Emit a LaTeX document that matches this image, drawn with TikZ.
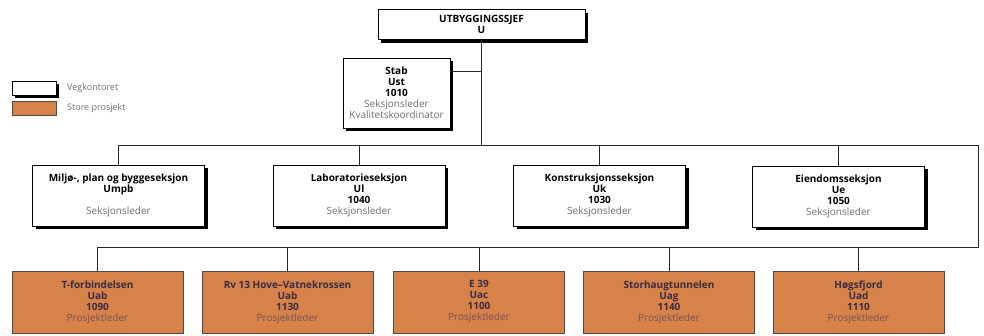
\documentclass[tikz,border=0pt]{standalone}
\usepackage{fontspec}
\setmainfont{Open Sans}
\usetikzlibrary{shadows}
\definecolor{orangebox}{RGB}{214,130,72}
\definecolor{orangetext}{RGB}{58,44,70}
\definecolor{orangesub}{RGB}{120,84,90}
\definecolor{subgray}{RGB}{110,110,110}
\begin{document}
\begin{tikzpicture}[x=1pt,y=-1pt,
  base/.style={align=center, inner sep=0pt, font=\fontsize{10}{11}\selectfont},
  wbox/.style={base, draw=black, line width=0.8pt, fill=white,
    drop shadow={shadow xshift=3pt, shadow yshift=-3pt, fill=black, opacity=1}},
  secbox/.style={wbox, minimum width=172pt, minimum height=61pt},
  obox/.style={base, draw=black!70, line width=0.6pt, fill=orangebox, text=orangetext,
    minimum width=171pt, minimum height=62pt},
  conn/.style={draw=black!85, line width=0.8pt},
  legtext/.style={anchor=west, inner sep=0pt, text=subgray, font=\fontsize{9}{10}\selectfont}]
\useasboundingbox (0,0) rectangle (984,335);

% top
\node[wbox, minimum width=207pt, minimum height=30pt] (u) at (481.5,24.5)
  {\textbf{UTBYGGINGSSJEF}\\\textbf{U}};
\node[wbox, minimum width=107pt, minimum height=70pt] (stab) at (396.5,93)
  {\textbf{Stab}\\\textbf{Ust}\\\textbf{1010}\\{\color{subgray}Seksjonsleder}\\{\color{subgray}Kvalitetskoordinator}};

% legend
\node[wbox, minimum width=44pt, minimum height=14pt] (legw) at (34,88) {};
\node[legtext] (legwt) at (67,88) {Vegkontoret};
\node[obox, minimum width=44pt, minimum height=14pt] (lego) at (34,108) {};
\node[legtext] (legot) at (67,108) {Store prosjekt};

% sections
\node[secbox] (miljo) at (118.5,195.5)
  {\textbf{Miljø-, plan og byggeseksjon}\\\textbf{Umpb}\\[11pt]{\color{subgray}Seksjonsleder}};
\node[secbox] (lab) at (359,195.5)
  {\textbf{Laboratorieseksjon}\\\textbf{Ul}\\\textbf{1040}\\{\color{subgray}Seksjonsleder}};
\node[secbox] (konst) at (599.5,195.5)
  {\textbf{Konstruksjonsseksjon}\\\textbf{Uk}\\\textbf{1030}\\{\color{subgray}Seksjonsleder}};
\node[secbox] (eiend) at (838.5,196.5)
  {\textbf{Eiendomsseksjon}\\\textbf{Ue}\\\textbf{1050}\\{\color{subgray}Seksjonsleder}};

% projects
\node[obox] (tforb) at (97.5,302)
  {\textbf{T-forbindelsen}\\\textbf{Uab}\\\textbf{1090}\\{\color{orangesub}Prosjektleder}};
\node[obox] (rv13) at (287.5,302)
  {\textbf{Rv 13 Hove–Vatnekrossen}\\\textbf{Uab}\\\textbf{1130}\\{\color{orangesub}Prosjektleder}};
\node[obox] (e39) at (479,302)
  {\textbf{E 39}\\\textbf{Uac}\\\textbf{1100}\\{\color{orangesub}Prosjektleder}};
\node[obox] (storh) at (669,302)
  {\textbf{Storhaugtunnelen}\\\textbf{Uag}\\\textbf{1140}\\{\color{orangesub}Prosjektleder}};
\node[obox] (hogsf) at (858.5,302)
  {\textbf{Høgsfjord}\\\textbf{Uad}\\\textbf{1110}\\{\color{orangesub}Prosjektleder}};

% connectors
\coordinate (bustop) at (481,145);
\coordinate (stabj) at (481,71);
\coordinate (busr) at (978,145);
\coordinate (busbr) at (978,247);
\coordinate (busb) at (96,247);

\draw[conn] (u.south -| bustop) -- (bustop);
\draw[conn] (stab.east |- stabj) -- (stabj);
\draw[conn] (miljo.north |- bustop) -- (busr) -- (busbr) -- (busb -| tforb.north);
\foreach \n in {miljo,lab,konst,eiend}
  \draw[conn] (\n.north |- bustop) -- (\n.north);
\foreach \n in {tforb,rv13,e39,storh,hogsf}
  \draw[conn] (\n.north |- busb) -- (\n.north);
\end{tikzpicture}
\end{document}
